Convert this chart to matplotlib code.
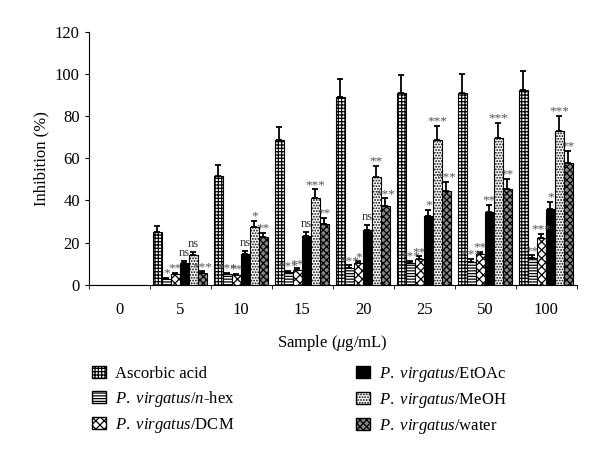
import matplotlib
matplotlib.use("Agg")
import matplotlib.pyplot as plt
from matplotlib.patches import Patch
import numpy as np

plt.rcParams['font.family'] = 'Liberation Serif'
plt.rcParams['mathtext.fontset'] = 'custom'
plt.rcParams['mathtext.rm'] = 'Liberation Serif'
plt.rcParams['mathtext.it'] = 'Liberation Serif:italic'
plt.rcParams['hatch.linewidth'] = 0.9

concentrations = ["0", "5", "10", "15", "20", "25", "50", "100"]
series = ["Ascorbic acid", r"$\mathit{P.\ virgatus}$/$\mathit{n}$-hex",
          r"$\mathit{P.\ virgatus}$/DCM", r"$\mathit{P.\ virgatus}$/EtOAc",
          r"$\mathit{P.\ virgatus}$/MeOH", r"$\mathit{P.\ virgatus}$/water"]

ascorbic = [0, 25.1, 51.8, 68.6, 89.0, 90.7, 91.1, 92.2]
nhex     = [0, 2.7, 5.0, 6.0, 8.2, 10.2, 11.0, 12.5]
dcm      = [0, 5.0, 4.6, 7.0, 10.2, 12.2, 14.4, 22.1]
etoac    = [0, 10.5, 14.7, 23.0, 25.9, 32.5, 34.5, 35.9]
meoh     = [0, 14.0, 27.5, 41.3, 51.3, 68.7, 69.8, 72.9]
water    = [0, 5.6, 22.6, 29.0, 37.5, 44.5, 45.6, 57.7]

err_ascorbic = [0, 2.7, 5.2, 6.4, 8.7, 8.9, 8.9, 9.0]
err_nhex     = [0, 0.5, 0.8, 0.8, 1.0, 1.2, 1.3, 1.5]
err_dcm      = [0, 0.6, 0.7, 0.8, 1.0, 1.3, 1.4, 2.2]
err_etoac    = [0, 0.9, 1.3, 2.0, 2.6, 3.1, 3.5, 3.5]
err_meoh     = [0, 1.5, 2.9, 4.0, 5.0, 6.6, 7.1, 7.1]
err_water    = [0, 0.9, 2.2, 2.8, 3.5, 4.3, 4.6, 5.7]

# significance labels for n-hex, DCM, EtOAc, MeOH, water (groups 5..100)
sig_nhex  = ["", "*", "***", "***", "***", "***", "***", "**"]
sig_dcm   = ["", "**", "**", "**", "*", "**", "**", "***"]
sig_etoac = ["", "ns", "ns", "ns", "ns", "*", "**", "*"]
sig_meoh  = ["", "ns", "*", "***", "**", "***", "***", "***"]
sig_water = ["", "***", "**", "**", "***", "***", "**", "**"]

values = [ascorbic, nhex, dcm, etoac, meoh, water]
errors = [err_ascorbic, err_nhex, err_dcm, err_etoac, err_meoh, err_water]
sigs = [None, sig_nhex, sig_dcm, sig_etoac, sig_meoh, sig_water]
styles = [("white", "+++++"), ("white", "------"), ("white", "xxxx"),
          ("black", ""), ("white", "......"), ("#888888", "xxxxx")]

fig = plt.figure(figsize=(6, 4.58), dpi=100)
ax = fig.add_axes([0.148, 0.378, 0.813, 0.553])

w = 0.148
x = np.arange(len(concentrations))
for k in range(6):
    pos = x + 0.05 + w * k + w / 2
    fc, hatch = styles[k]
    ax.bar(pos, values[k], w, color=fc, edgecolor="black", hatch=hatch, linewidth=0.8)
    ax.errorbar(pos[1:], np.array(values[k])[1:], yerr=[np.zeros(7), np.array(errors[k])[1:]],
                fmt="none", ecolor="black", elinewidth=1.3, capsize=2.5, capthick=1.3)
    if sigs[k] is not None:
        for i in range(1, len(x)):
            s = sigs[k][i]
            top = values[k][i] + errors[k][i] + 1.0
            if s == "ns":
                ax.text(pos[i], top, s, ha="center", va="bottom", fontsize=9, color="#333333")
            else:
                ax.text(pos[i], top - 1.8, s, ha="center", va="bottom", fontsize=9.5, color="#555555")

ax.set_xlim(0, len(concentrations))
ax.set_ylim(0, 120)
ax.set_yticks(np.arange(0, 121, 20))
ax.set_xticks(x + 0.5)
ax.set_xticklabels(concentrations)
ax.set_xticks(np.arange(len(concentrations) + 1), minor=True)
ax.tick_params(axis="x", which="major", length=0, pad=12, labelsize=12)
ax.tick_params(axis="x", which="minor", length=3, direction="out")
ax.tick_params(axis="y", labelsize=12, length=3)
ax.spines["top"].set_visible(False)
ax.spines["right"].set_visible(False)
ax.set_ylabel("Inhibition (%)", fontsize=12)
ax.set_xlabel(r"Sample ($\mathit{\mu}$g/mL)", fontsize=12, labelpad=11)

handles = [Patch(facecolor=styles[k][0], edgecolor="black", hatch=styles[k][1]) for k in range(6)]
fig.legend(handles, series, ncol=2,
           loc="upper left", bbox_to_anchor=(0.143, 0.218), frameon=False,
           fontsize=12, handlelength=0.8, handleheight=0.8, columnspacing=7.3,
           labelspacing=0.42, handletextpad=0.55, borderaxespad=0)

fig.savefig("out.png", dpi=100)
